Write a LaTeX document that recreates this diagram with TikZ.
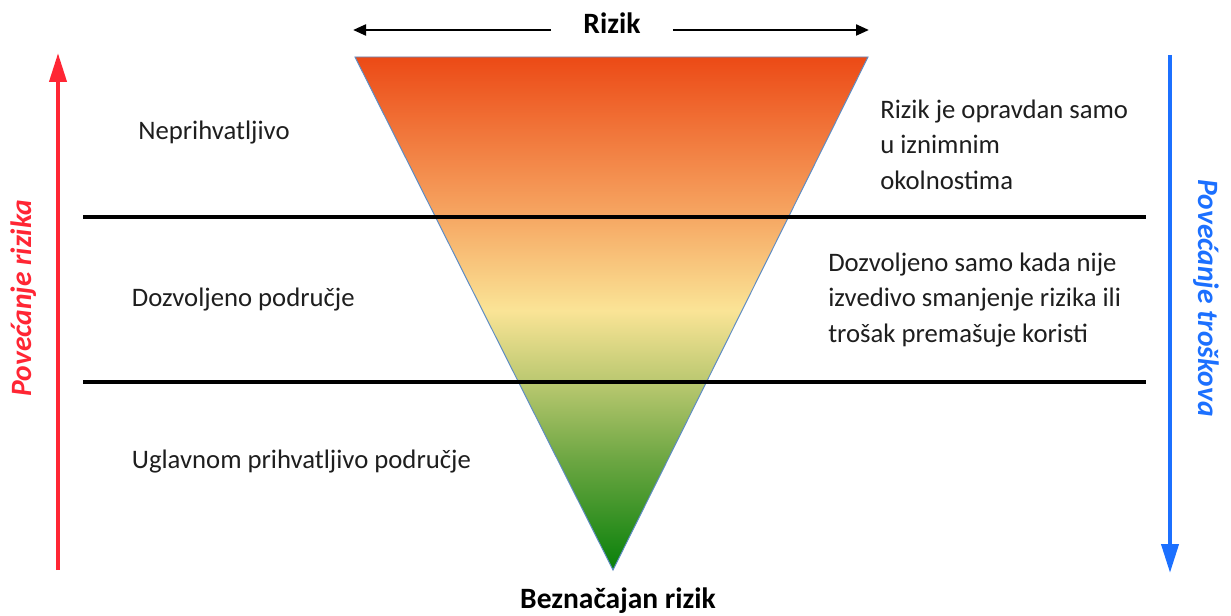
\documentclass[tikz,border=0pt]{standalone}
\usepackage{fontspec}
\setmainfont{Carlito}
\usetikzlibrary{arrows.meta,positioning}

\definecolor{riskred}{RGB}{255,38,52}
\definecolor{costblue}{RGB}{28,112,255}
\definecolor{edgeblue}{RGB}{95,140,195}
\definecolor{textgray}{RGB}{30,30,30}
\definecolor{gtop}{RGB}{236,74,22}
\definecolor{gorange}{RGB}{246,166,98}
\definecolor{gyellow}{RGB}{250,228,150}
\definecolor{gkhaki}{RGB}{186,200,112}
\definecolor{glight}{RGB}{108,166,66}
\definecolor{gbottom}{RGB}{8,128,10}

% red on top, yellow in the middle, green at the apex
\pgfdeclareverticalshading{riskfade}{100bp}{color(0bp)=(gbottom); color(25bp)=(gbottom);
  color(35.7bp)=(glight); color(43.3bp)=(gkhaki); color(50.3bp)=(gyellow);
  color(59.6bp)=(gorange); color(75bp)=(gtop); color(100bp)=(gtop)}

\begin{document}
\begin{tikzpicture}[
    zone/.style={anchor=mid west,inner sep=0pt,text=textgray,font=\fontsize{19}{25}\selectfont},
    note/.style={anchor=base west,inner sep=0pt,align=left,text=textgray,font=\fontsize{19}{24.9}\selectfont},
    title/.style={inner sep=0pt,font=\bfseries\fontsize{21}{26}\selectfont},
    sidelabel/.style={inner sep=0pt,font=\bfseries\itshape\fontsize{21}{26}\selectfont},
    axis/.style={line width=3pt,-{Triangle[length=0.72cm,width=0.42cm]}}]
    \useasboundingbox (0,0) rectangle (30.775,15.375);

    % inverted triangle
    \shade[shading=riskfade,draw=edgeblue,line width=0.7pt] (8.875,13.95) -- (21.7,13.95) -- (15.325,1.125) -- cycle;

    % borders between the zones
    \draw[line width=2.5pt] (2.075,9.95) -- (28.65,9.95);
    \draw[line width=2.5pt] (2.075,5.825) -- (28.65,5.825);

    % Rizik, arrows to both ends
    \node[title,anchor=mid,inner xsep=0.8cm] (rizik) at (15.3,14.625) {Rizik};
    \coordinate (rizikL) at (8.83,14.625);
    \coordinate (rizikR) at (21.72,14.625);
    \draw[line width=1.1pt,-{Triangle[length=0.32cm,width=0.28cm]}] (rizik.mid west) -- (rizikL);
    \draw[line width=1.1pt,-{Triangle[length=0.32cm,width=0.28cm]}] (rizik.mid east) -- (rizikR);

    % apex
    \node[title,anchor=base] (negligible) at (15.45,0.175) {Beznačajan rizik};

    % zones on the left
    \node[zone] (unacc) at (3.45,11.96) {Neprihvatljivo};
    \node[zone] (tolerable) at (3.29,7.79) {Dozvoljeno područje};
    \node[zone] (broadly) at (3.29,3.75) {Uglavnom prihvatljivo područje};

    % notes on the right (base = last line)
    \node[note] (unaccnote) at (22.0,10.65) {Rizik je opravdan samo\\u iznimnim\\okolnostima};
    \node[note] (tolnote) at (20.7,6.825) {Dozvoljeno samo kada nije\\izvedivo smanjenje rizika ili\\trošak premašuje koristi};

    % risk goes up, cost goes down
    \coordinate (riskfoot) at (1.45,1.125);
    \coordinate (risktip) at (1.45,14.05);
    \draw[axis,riskred] (riskfoot) -- (risktip);
    \node[sidelabel,text=riskred,rotate=90] (riskup) at (0.58,7.92) {Povećanje rizika};
    \coordinate (costtop) at (29.25,14.0);
    \coordinate (costtip) at (29.25,1.05);
    \draw[axis,costblue] (costtop) -- (costtip);
    \node[sidelabel,text=costblue,rotate=-90] (costup) at (30.15,7.92) {Povećanje troškova};
\end{tikzpicture}
\end{document}
